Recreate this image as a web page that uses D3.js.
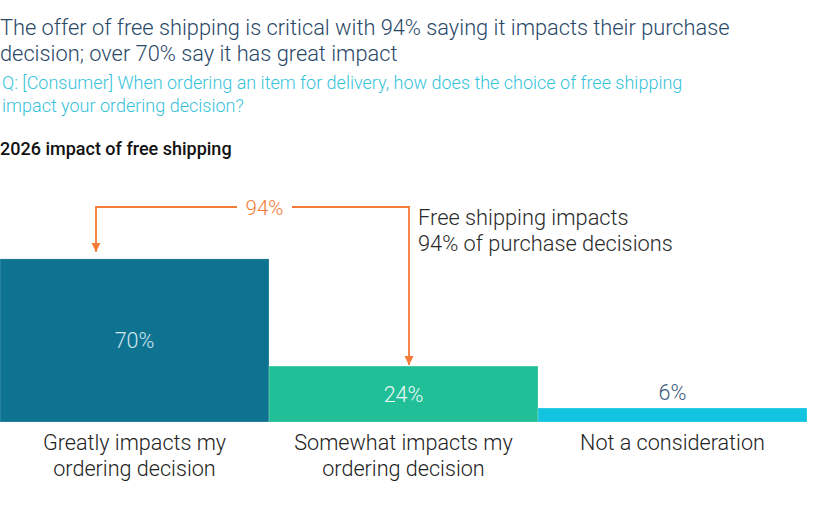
<!DOCTYPE html>
<html>
<head>
<meta charset="utf-8">
<script src="https://cdn.jsdelivr.net/npm/d3@7"></script>
<style>
  body { margin: 0; background: #fff; }
  svg { display: block; font-family: Roboto, "Noto Sans", sans-serif; }
</style>
</head>
<body>
<script>
var categories = [['Greatly impacts my', 'ordering decision'], ['Somewhat impacts my', 'ordering decision'], ['Not a consideration']];
var values = [70, 24, 6];
var colors = ['#0e7391', '#21bf98', '#12c4e0'];
var labelColors = ['#cfe6ee', '#eefaf6', '#3b5877'];
var total = 94;

var width = 815, height = 522;
var baseline = 422;

var svg = d3.select('body').append('svg')
  .attr('width', width)
  .attr('height', height);

// titles
var title = svg.append('text')
  .attr('font-size', 21.8)
  .attr('font-weight', 300)
  .attr('fill', '#2a4868');
title.append('tspan').attr('x', 0).attr('y', 35)
  .text('The offer of free shipping is critical with 94% saying it impacts their purchase');
title.append('tspan').attr('x', 0).attr('y', 61)
  .text('decision; over 70% say it has great impact');

var sub = svg.append('text')
  .attr('font-size', 18)
  .attr('font-weight', 300)
  .attr('fill', '#35c3da');
sub.append('tspan').attr('x', 2).attr('y', 89)
  .text('Q: [Consumer] When ordering an item for delivery, how does the choice of free shipping');
sub.append('tspan').attr('x', 2).attr('y', 112)
  .text('impact your ordering decision?');

svg.append('text')
  .attr('x', 0).attr('y', 155)
  .attr('font-size', 18)
  .attr('font-weight', 500)
  .attr('fill', '#111')
  .text('2026 impact of free shipping');

var x = d3.scaleBand()
  .domain(d3.range(values.length))
  .range([0, 807])
  .padding(0);

var y = d3.scaleLinear()
  .domain([0, 100])
  .range([baseline, baseline - 233]);

svg.selectAll('.bar')
  .data(values)
  .enter().append('rect')
  .attr('class', 'bar')
  .attr('x', function(d, i) { return x(i); })
  .attr('y', function(d) { return y(d); })
  .attr('width', x.bandwidth())
  .attr('height', function(d) { return baseline - y(d); })
  .attr('fill', function(d, i) { return colors[i]; })
  .attr('stroke', 'rgba(255,255,255,0.35)')
  .attr('stroke-width', 0.6);

// value labels (inside the tall bars, above the small one)
svg.selectAll('.val')
  .data(values)
  .enter().append('text')
  .attr('class', 'val')
  .attr('x', function(d, i) { return x(i) + x.bandwidth() / 2; })
  .attr('y', function(d, i) {
    if (d < 10) return y(d) - 8;
    return y(d) + (baseline - y(d)) / 2 + 8;
  })
  .attr('text-anchor', 'middle')
  .attr('font-size', 21.5)
  .attr('font-weight', 300)
  .attr('fill', function(d, i) { return labelColors[i]; })
  .text(function(d) { return d + '%'; });

// category labels
svg.selectAll('.cat')
  .data(categories)
  .enter().append('text')
  .attr('class', 'cat')
  .attr('text-anchor', 'middle')
  .attr('font-size', 21.6)
  .attr('font-weight', 300)
  .attr('fill', '#222')
  .each(function(lines, i) {
    var t = d3.select(this);
    lines.forEach(function(l, j) {
      t.append('tspan')
        .attr('x', x(i) + x.bandwidth() / 2)
        .attr('y', 450 + j * 26)
        .text(l);
    });
  });

// bracket arrow for 94%
var orange = '#f47b38';
var topY = 207;
var leftX = 96, rightX = 409;

svg.append('defs').append('marker')
  .attr('id', 'arrow')
  .attr('viewBox', '0 0 10 10')
  .attr('refX', 10).attr('refY', 5)
  .attr('markerWidth', 5.2).attr('markerHeight', 5.2)
  .attr('orient', 'auto')
  .append('path')
  .attr('d', 'M0,0 L10,5 L0,10 Z')
  .attr('fill', orange);

svg.append('path')
  .attr('d', 'M237,' + topY + ' H' + leftX + ' V' + (y(values[0]) - 7))
  .attr('fill', 'none')
  .attr('stroke', orange)
  .attr('stroke-width', 1.8)
  .attr('marker-end', 'url(#arrow)');

svg.append('path')
  .attr('d', 'M292,' + topY + ' H' + rightX + ' V' + (y(values[1]) - 1))
  .attr('fill', 'none')
  .attr('stroke', orange)
  .attr('stroke-width', 1.8)
  .attr('marker-end', 'url(#arrow)');

svg.append('text')
  .attr('x', 264.5).attr('y', topY + 7.5)
  .attr('text-anchor', 'middle')
  .attr('font-size', 20.5)
  .attr('font-weight', 300)
  .attr('fill', orange)
  .text(total + '%');

var note = svg.append('text')
  .attr('font-size', 21.8)
  .attr('font-weight', 300)
  .attr('fill', '#2a2a2a');
note.append('tspan').attr('x', 418).attr('y', 225).text('Free shipping impacts');
note.append('tspan').attr('x', 418).attr('y', 251).text(total + '% of purchase decisions');
</script>
</body>
</html>
